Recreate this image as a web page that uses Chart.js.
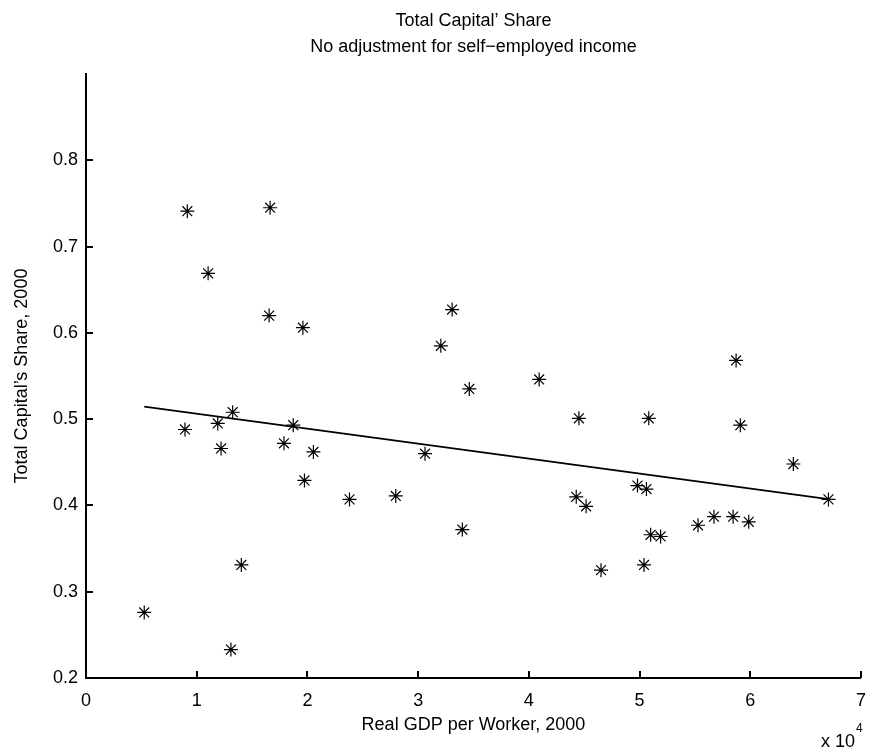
<!DOCTYPE html>
<html>
<head>
<meta charset="utf-8">
<script src="https://cdn.jsdelivr.net/npm/chart.js@4.4.1/dist/chart.umd.min.js"></script>
<style>
  html, body { margin: 0; padding: 0; background: #fff; }
  #wrap { width: 878px; height: 756px; }
</style>
</head>
<body>
<div id="wrap"><canvas id="c" width="878" height="756"></canvas></div>
<script>
// Real GDP per worker, 2000 (US$)
const gdpPerWorker = [5260, 8940, 9150, 11030, 11900, 12200, 13090, 13250, 14030, 16540,
  16630, 17880, 18720, 19590, 19730, 20540, 23800, 27980, 30620, 32050,
  33070, 33990, 34620, 40930, 44280, 44520, 45170, 46520, 49810, 50400,
  50620, 50830, 51000, 51900, 55280, 56720, 58450, 58720, 59100, 59860,
  63890, 67060];
// Total capital's share, 2000
const capitalShare = [0.276, 0.488, 0.741, 0.669, 0.495, 0.466, 0.233, 0.508, 0.331, 0.620,
  0.745, 0.472, 0.493, 0.606, 0.429, 0.462, 0.407, 0.411, 0.460, 0.585,
  0.627, 0.372, 0.535, 0.546, 0.410, 0.501, 0.399, 0.325, 0.423, 0.331,
  0.419, 0.501, 0.366, 0.364, 0.377, 0.387, 0.387, 0.568, 0.493, 0.381,
  0.448, 0.407];
// Fitted regression line end points
const fitX = [5260, 67060];
const fitY = [0.5145, 0.4073];
// Axis ticks
const xTickValues = [0, 10000, 20000, 30000, 40000, 50000, 60000, 70000];
const yTickValues = [0.2, 0.3, 0.4, 0.5, 0.6, 0.7, 0.8];

const titleLines = ["Total Capital\u2019 Share", "No adjustment for self\u2212employed income"];
const xTitle = "Real GDP per Worker, 2000";
const yTitle = "Total Capital\u2019s Share, 2000";

const FONT = "'Liberation Sans', Arial, Helvetica, sans-serif";

const scatterPts = gdpPerWorker.map((x, i) => ({ x: x, y: capitalShare[i] }));
const fitPts = fitX.map((x, i) => ({ x: x, y: fitY[i] }));

const inwardTicks = {
  id: 'inwardTicks',
  afterDraw(chart) {
    const ctx = chart.ctx;
    const xs = chart.scales.x, ys = chart.scales.y;
    const len = 7;
    ctx.save();
    ctx.strokeStyle = '#000';
    ctx.lineWidth = 2;
    ctx.beginPath();
    xs.ticks.forEach(t => {
      const px = Math.round(xs.getPixelForValue(t.value));
      ctx.moveTo(px, ys.bottom);
      ctx.lineTo(px, ys.bottom - len);
    });
    ys.ticks.forEach(t => {
      const py = Math.round(ys.getPixelForValue(t.value));
      ctx.moveTo(xs.left, py);
      ctx.lineTo(xs.left + len, py);
    });
    ctx.stroke();
    // exponent label
    ctx.fillStyle = '#000';
    ctx.textBaseline = 'alphabetic';
    ctx.textAlign = 'right';
    ctx.font = "18px " + FONT;
    const baseX = xs.right - 6;
    const baseY = 747;
    ctx.fillText('x 10', baseX, baseY);
    ctx.textAlign = 'left';
    ctx.font = "12px " + FONT;
    ctx.fillText('4', baseX + 1, baseY - 15);
    ctx.restore();
  }
};

new Chart(document.getElementById('c'), {
  type: 'scatter',
  data: {
    datasets: [
      {
        label: 'data',
        data: scatterPts,
        pointStyle: 'star',
        pointRadius: 7,
        pointHoverRadius: 7,
        borderColor: '#000',
        backgroundColor: '#000',
        pointBorderWidth: 1.2,
        showLine: false
      },
      {
        label: 'fit',
        data: fitPts,
        showLine: true,
        pointRadius: 0,
        borderColor: '#000',
        borderWidth: 1.6,
        fill: false
      }
    ]
  },
  options: {
    responsive: false,
    animation: false,
    devicePixelRatio: 1,
    layout: { padding: { left: 0, right: 11, top: 0, bottom: 0 } },
    plugins: {
      legend: { display: false },
      tooltip: { enabled: false },
      title: {
        display: true,
        text: titleLines,
        fullSize: false,
        color: '#000',
        font: { family: FONT, size: 18, weight: 'normal', lineHeight: 1.45 },
        padding: { top: 8, bottom: 13.8 }
      }
    },
    scales: {
      x: {
        type: 'linear',
        min: 0,
        max: 70000,
        afterBuildTicks: (s) => { s.ticks = xTickValues.map(v => ({ value: v })); },
        afterFit: (s) => { s.height = 78; },
        grid: { display: false, drawTicks: false },
        border: { display: true, color: '#000', width: 2 },
        ticks: {
          color: '#000',
          padding: 12,
          maxRotation: 0,
          font: { family: FONT, size: 18 },
          callback: (v) => String(Math.round(v / 10000))
        },
        title: {
          display: true,
          text: xTitle,
          color: '#000',
          font: { family: FONT, size: 18 },
          padding: { top: 2, bottom: 20 }
        }
      },
      y: {
        type: 'linear',
        min: 0.2,
        max: 0.9,
        afterBuildTicks: (s) => { s.ticks = yTickValues.map(v => ({ value: v })); },
        afterFit: (s) => { s.width = 86; },
        grid: { display: false, drawTicks: false },
        border: { display: true, color: '#000', width: 2 },
        ticks: {
          color: '#000',
          padding: 8,
          font: { family: FONT, size: 18 },
          callback: (v) => Number(v).toFixed(1)
        },
        title: {
          display: true,
          text: yTitle,
          color: '#000',
          font: { family: FONT, size: 18 },
          padding: { top: 11, bottom: 0 }
        }
      }
    }
  },
  plugins: [inwardTicks]
});
</script>
</body>
</html>
